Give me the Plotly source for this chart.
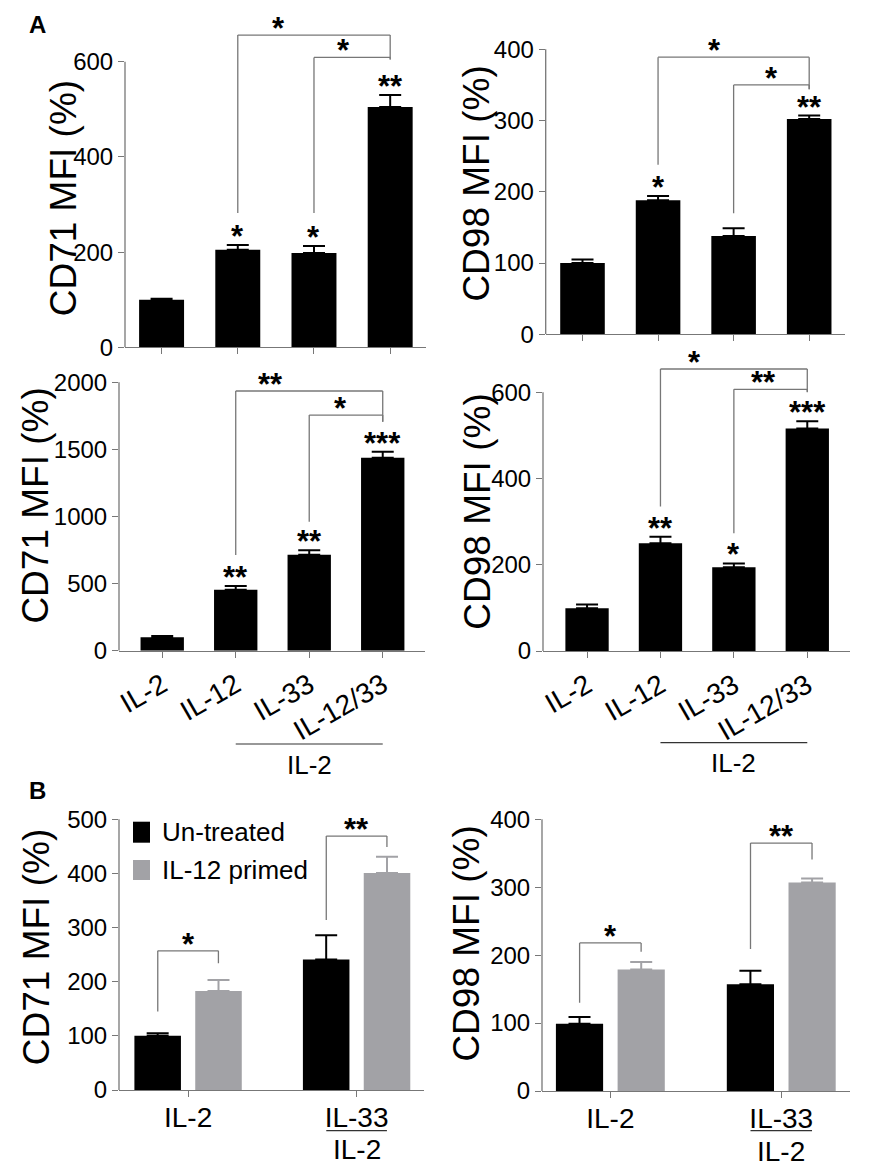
import plotly.graph_objects as go

# the page puts the plot 8 px in from the top-left corner, so the figure is made
# smaller and every pixel position read off the reference is moved by that offset
PAGE, OFF = (886, 1175), 8
W, H = PAGE[0] - 2 * OFF, PAGE[1] - 2 * OFF

# ---- data ----
groups_a = ["IL-2", "IL-12", "IL-33", "IL-12/33"]
groups_b = ["IL-2", "IL-33"]

# A, upper row
cd71_a1 = [100, 205, 198, 505]
cd71_a1_err = [2, 10, 15, 25]
cd71_a1_sig = ["", "*", "*", "**"]
cd98_a1 = [100, 188, 138, 302]
cd98_a1_err = [5, 6, 11, 5]
cd98_a1_sig = ["", "*", "", "**"]

# A, lower row
cd71_a2 = [100, 455, 715, 1438]
cd71_a2_err = [10, 27, 33, 45]
cd71_a2_sig = ["", "**", "**", "***"]
cd98_a2 = [99, 250, 194, 516]
cd98_a2_err = [9, 15, 9, 17]
cd98_a2_sig = ["", "**", "*", "***"]

# B
cd71_b_untreated = [100, 241]
cd71_b_untreated_err = [5, 45]
cd71_b_primed = [183, 401]
cd71_b_primed_err = [20, 30]
cd98_b_untreated = [99, 157]
cd98_b_untreated_err = [10, 20]
cd98_b_primed = [179, 307]
cd98_b_primed_err = [11, 6]

# comparison brackets: [x left, x right, top, left foot, right foot, stars, star x]
brackets = {
    1: [[1, 3, 656, 282, 606, "*", 1.53], [2, 3, 609, 282, 604, "*", 2.39]],
    2: [[1, 3, 389, 238, 344, "*", 1.75], [2, 3, 350, 170, 344, "*", 2.50]],
    3: [[1, 3, 1935, 713, 1706, "**", 1.47], [2, 3, 1756, 961, 1706, "*", 2.42]],
    4: [[1, 3, 654, 335, 601, "*", 1.47], [2, 3, 607, 273, 600, "**", 2.40]],
    5: [[-0.18, 0.18, 257, 145, 234, "*", 0], [0.82, 1.18, 469, 314, 449, "**", 1]],
    6: [[-0.18, 0.18, 218, 130, 205, "*", 0], [0.82, 1.18, 365, 209, 341, "**", 1]],
}

BLACK = "#000000"
GREY = "#a2a2a6"
LINE = "#777777"
FONT = "Arial, Liberation Sans, sans-serif"

# panel geometry in pixels: x left, x right, y of zero, y of top tick, top tick, dtick, y max, x range
panels = {
    1: dict(x0=125, x1=426, z=347.3, t=61.7, top=600, dtick=200, ymax=700, xr=[-0.48, 3.47]),
    2: dict(x0=545.7, x1=844.7, z=334.3, t=49.3, top=400, dtick=100, ymax=420, xr=[-0.487, 3.47]),
    3: dict(x0=119, x1=425, z=650.7, t=382.3, top=2000, dtick=500, ymax=2050, xr=[-0.588, 3.575]),
    4: dict(x0=543, x1=850.3, z=651, t=392.3, top=600, dtick=200, ymax=690, xr=[-0.6, 3.586]),
    5: dict(x0=119, x1=424, z=1090, t=819.3, top=500, dtick=100, ymax=520, xr=[-0.41, 1.40]),
    6: dict(x0=542, x1=850.3, z=1091, t=819.3, top=400, dtick=100, ymax=420, xr=[-0.40, 1.404]),
}


def py(p):
    return 1 - (p - OFF) / H


def px(p):
    return (p - OFF) / W


def sfx(n):
    return "" if n == 1 else str(n)


fig = go.Figure()
shapes = []
annotations = []


def err(arr, color, w=11):
    return dict(type="data", array=arr, arrayminus=[0] * len(arr), symmetric=False,
                color=color, thickness=2, width=w)


single = [(1, cd71_a1, cd71_a1_err, cd71_a1_sig),
          (2, cd98_a1, cd98_a1_err, cd98_a1_sig),
          (3, cd71_a2, cd71_a2_err, cd71_a2_sig),
          (4, cd98_a2, cd98_a2_err, cd98_a2_sig)]

for n, vals, errs, sig in single:
    s = sfx(n)
    fig.add_trace(go.Bar(x=groups_a, y=vals, width=0.59, marker=dict(color=BLACK, line=dict(width=0)),
                         error_y=err(errs, BLACK), xaxis="x" + s, yaxis="y" + s, showlegend=False))
    for i, st in enumerate(sig):
        if st:
            annotations.append(dict(x=i, y=vals[i] + errs[i], xref="x" + s, yref="y" + s, text=st,
                                    showarrow=False, yanchor="bottom", yshift=-11,
                                    font=dict(family=FONT, size=31, color=BLACK, weight="bold")))

paired = [(5, cd71_b_untreated, cd71_b_untreated_err, cd71_b_primed, cd71_b_primed_err),
          (6, cd98_b_untreated, cd98_b_untreated_err, cd98_b_primed, cd98_b_primed_err)]

for n, v0, e0, v1, e1 in paired:
    s = sfx(n)
    fig.add_trace(go.Bar(x=groups_b, y=v0, name="Un-treated", marker=dict(color=BLACK, line=dict(width=0)),
                         error_y=err(e0, BLACK), xaxis="x" + s, yaxis="y" + s, showlegend=False))
    fig.add_trace(go.Bar(x=groups_b, y=v1, name="IL-12 primed", marker=dict(color=GREY, line=dict(width=0)),
                         error_y=err(e1, GREY), xaxis="x" + s, yaxis="y" + s, showlegend=False))

# brackets
for n, items in brackets.items():
    s = sfx(n)
    for xl, xr, top, fl, fr, st, sx in items:
        for (a, b, c, d) in [(xl, fl, xl, top), (xl, top, xr, top), (xr, top, xr, fr)]:
            shapes.append(dict(type="line", xref="x" + s, yref="y" + s, x0=a, y0=b, x1=c, y1=d,
                               line=dict(color=LINE, width=1.3)))
        annotations.append(dict(x=sx, y=top, xref="x" + s, yref="y" + s, text=st, showarrow=False,
                                yanchor="bottom", yshift=-13,
                                font=dict(family=FONT, size=31, color=BLACK, weight="bold")))

layout = dict(template="none", width=W, height=H, margin=dict(l=0, r=0, t=0, b=0, pad=0),
              paper_bgcolor="white", plot_bgcolor="white", barmode="group",
              bargap=0.278, bargroupgap=0.235, showlegend=False,
              font=dict(family=FONT, color=BLACK))

for n, p in panels.items():
    s = sfx(n)
    scale = (p["z"] - p["t"]) / p["top"]
    ytop = p["z"] - p["ymax"] * scale
    show_x = n >= 3
    layout["xaxis" + s] = dict(domain=[px(p["x0"]), px(p["x1"])], range=p["xr"], anchor="y" + s,
                               type="category", automargin=False, showline=True, linecolor=LINE,
                               linewidth=1.3, ticks="outside", ticklen=6, tickcolor=LINE, tickwidth=1.3,
                               showgrid=False, zeroline=False, showticklabels=show_x,
                               tickangle=-30 if n in (3, 4) else 0,
                               ticklabelstandoff=0 if n in (3, 4) else -4,
                               tickfont=dict(family=FONT, size=28, color=BLACK))
    layout["yaxis" + s] = dict(domain=[py(p["z"]), py(ytop)], range=[0, p["ymax"]], anchor="x" + s,
                               automargin=False, tickvals=list(range(0, p["top"] + 1, p["dtick"])),
                               showline=False, ticks="outside", ticklen=6, tickcolor=LINE, tickwidth=1.3,
                               showgrid=False, zeroline=False,
                               tickfont=dict(family=FONT, size=24, color=BLACK))
    # y axis line only up to the top tick
    shapes.append(dict(type="line", xref="x" + s + " domain", yref="y" + s, x0=0, x1=0, y0=0, y1=p["top"],
                       line=dict(color=LINE, width=1.3)))

# IL-2 background line + label under the x labels
for n, xa, xb, lx, ly, ty, fs in [(3, 1, 3, 2, 744, 765, 26), (4, 1, 3, 2, 742.7, 763, 26),
                                  (5, 0.82, 1.18, 1, 1130.7, 1149, 28), (6, 0.82, 1.18, 1, 1130.7, 1151, 28)]:
    s = sfx(n)
    shapes.append(dict(type="line", xref="x" + s, yref="paper", x0=xa, x1=xb, y0=py(ly), y1=py(ly),
                       line=dict(color="#333333", width=1.2)))
    annotations.append(dict(x=lx, y=py(ty), xref="x" + s, yref="paper", text="IL-2", showarrow=False,
                            xanchor="center", yanchor="middle", font=dict(family=FONT, size=fs, color=BLACK)))

# y axis titles
for x, y, t in [(63, 198.3, "CD71 MFI (%)"), (476.3, 183.3, "CD98 MFI (%)"),
                (35.8, 505.8, "CD71 MFI (%)"), (478, 511.7, "CD98 MFI (%)"),
                (36.7, 947.5, "CD71 MFI (%)"), (466.3, 943.3, "CD98 MFI (%)")]:
    annotations.append(dict(x=px(x), y=py(y), xref="paper", yref="paper", text=t, textangle=-90,
                            showarrow=False, xanchor="center", yanchor="middle",
                            font=dict(family=FONT, size=37, color=BLACK)))

# panel letters
for x, y, t in [(37, 25, "A"), (37.5, 790, "B")]:
    annotations.append(dict(x=px(x), y=py(y), xref="paper", yref="paper", text=t, showarrow=False,
                            xanchor="center", yanchor="middle",
                            font=dict(family=FONT, size=24, color=BLACK, weight="bold")))

# legend of panel B
for y0, y1, c, t in [(821.7, 842.7, BLACK, "Un-treated"), (860, 880, GREY, "IL-12 primed")]:
    shapes.append(dict(type="rect", xref="paper", yref="paper", x0=px(133), x1=px(150), y0=py(y1), y1=py(y0),
                       fillcolor=c, line=dict(width=0)))
    annotations.append(dict(x=px(160), y=py((y0 + y1) / 2), xref="paper", yref="paper", text=t,
                            showarrow=False, xanchor="left", yanchor="middle",
                            font=dict(family=FONT, size=26, color=BLACK)))

layout["shapes"] = shapes
layout["annotations"] = annotations
fig.update_layout(**layout)

fig.write_html("out.html")
